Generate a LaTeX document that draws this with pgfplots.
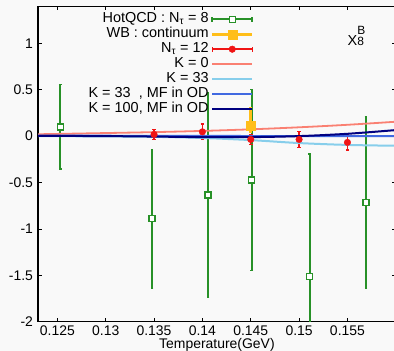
\documentclass[border=0pt]{standalone}
\usepackage{fontspec}
\setmainfont{Liberation Sans}
\usepackage{pgfplots}
\pgfplotsset{compat=1.18}

\definecolor{bg}{RGB}{249,249,249}
\definecolor{qgreen}{RGB}{40,145,40}
\definecolor{wborange}{RGB}{255,190,25}
\definecolor{ntred}{RGB}{240,20,20}
\definecolor{kzero}{RGB}{250,128,114}
\definecolor{kthree}{RGB}{135,206,235}
\definecolor{kmf}{RGB}{65,105,225}
\definecolor{khund}{RGB}{0,0,128}

\begin{document}
\fontsize{14.5}{16}\selectfont
\begin{tikzpicture}
\fill[bg] (-38bp,-29.3bp) rectangle (356bp,321.7bp);
\useasboundingbox (-38bp,-29.3bp) rectangle (356bp,321.7bp);
\begin{axis}[
  scale only axis,
  width=357.8bp, height=315.5bp,
  xmin=0.123, xmax=0.16,
  ymin=-2, ymax=1.4,
  xtick={0.125,0.13,0.135,0.14,0.145,0.15,0.155},
  ytick={-2,-1.5,-1,-0.5,0,0.5,1},
  scaled x ticks=false,
  scaled y ticks=false,
  /pgf/number format/assume math mode=true,
  xticklabel style={/pgf/number format/fixed, /pgf/number format/precision=3,
    yshift=1bp},
  tick label style={font=\fontsize{14}{14}\selectfont},
  tick align=inside,
  major tick length=4bp,
  tick style={black, line width=0.8bp},
  axis line style={black, line width=1.2bp},
  xlabel={Temperature(GeV)},
  xlabel style={at={(axis description cs:0.5,0)}, anchor=base, yshift=-26.5bp,
    font=\fontsize{14}{14}\selectfont},
  legend plot pos=right,
  legend cell align=right,
  legend style={draw=none, fill=none, inner sep=0pt,
    at={(rel axis cs:0.604,0.98)}, anchor=north east,
    font=\fontsize{14.5}{15}\selectfont, row sep=2bp,
    nodes={inner ysep=0pt, text height=10bp, text depth=3bp}},
]

% HotQCD, N_tau = 8
\addplot[qgreen, line width=1.6bp, only marks, mark=square*, forget plot,
  mark size=3bp, mark options={fill=white, line width=1.4bp},
  error bars/.cd, y dir=both, y explicit,
  error bar style={qgreen, line width=1.8bp},
  error mark options={qgreen, line width=1.4bp, mark size=1.3bp, rotate=90},
  ] coordinates {
  (0.1253, 0.100)  +- (0, 0.455)
  (0.1348, -0.890) +- (0, 0.745)
  (0.1406, -0.636) +- (0, 1.100)
  (0.1451, -0.474) +- (0, 0.975)
  (0.1511, -1.516) +- (0, 1.322)
  (0.1569, -0.714) +- (0, 0.925)
};

% WB continuum
\addplot[wborange, only marks, mark=square*, mark size=4.3bp, forget plot,
  mark options={fill=wborange, draw=wborange},
  error bars/.cd, y dir=both, y explicit,
  error bar style={wborange, line width=3.3bp},
  error mark=none,
  ] coordinates {
  (0.145, 0.111) += (0, 0.205) -= (0, 0.075)
};

% N_tau = 12
\addplot[ntred, only marks, mark=*, mark size=3.3bp, forget plot,
  mark options={fill=ntred, draw=ntred},
  error bars/.cd, y dir=both, y explicit,
  error bar style={ntred, line width=1.5bp},
  error mark options={ntred, line width=1.4bp, mark size=1.8bp, rotate=90},
  ] coordinates {
  (0.135, 0.018)  +- (0, 0.054)
  (0.140, 0.046)  +- (0, 0.085)
  (0.145, -0.036) +- (0, 0.053)
  (0.150, -0.036) +- (0, 0.085)
  (0.155, -0.068) +- (0, 0.080)
};

% model curves
\addplot[kzero, line width=1.8bp, smooth, forget plot] coordinates {
  (0.123, 0.020) (0.130, 0.033) (0.135, 0.043) (0.140, 0.056)
  (0.145, 0.073) (0.150, 0.095) (0.155, 0.122) (0.160, 0.155)
};
\addplot[kthree, line width=2bp, smooth, forget plot] coordinates {
  (0.123, 0.000) (0.130, -0.003) (0.135, -0.008) (0.140, -0.020)
  (0.145, -0.043) (0.150, -0.075) (0.155, -0.095) (0.160, -0.104)
};
\addplot[kmf, line width=2bp, smooth, forget plot] coordinates {
  (0.123, 0.005) (0.130, 0.004) (0.135, 0.003) (0.140, 0.002)
  (0.145, 0.001) (0.150, 0.000) (0.155, 0.000) (0.160, 0.000)
};
\addplot[khund, line width=2bp, smooth, forget plot] coordinates {
  (0.123, 0.003) (0.130, 0.000) (0.135, -0.005) (0.140, -0.011)
  (0.145, -0.011) (0.150, 0.000) (0.155, 0.025) (0.160, 0.065)
};

% legend: text on the left, sample on the right
\addlegendimage{legend image code/.code={
  \draw[qgreen, line width=1.6bp] (0bp,0bp) -- (40bp,0bp)
    (0bp,-2.5bp) -- (0bp,2.5bp) (40bp,-2.5bp) -- (40bp,2.5bp);
  \draw[qgreen, line width=1.4bp, fill=white] (17bp,-3bp) rectangle (23bp,3bp);}}
\addlegendentry{HotQCD : N\textsubscript{τ} = 8}
\addlegendimage{legend image code/.code={
  \draw[wborange, line width=3.3bp] (0bp,0bp) -- (40bp,0bp);
  \fill[wborange] (15.5bp,-4.5bp) rectangle (24.5bp,4.5bp);}}
\addlegendentry{WB : continuum}
\addlegendimage{legend image code/.code={
  \draw[ntred, line width=1.5bp] (0bp,0bp) -- (40bp,0bp)
    (0bp,-2.5bp) -- (0bp,2.5bp) (40bp,-2.5bp) -- (40bp,2.5bp);
  \fill[ntred] (20bp,0bp) circle (3.3bp);}}
\addlegendentry{N\textsubscript{τ} = 12}
\addlegendimage{legend image code/.code={
  \draw[kzero, line width=1.8bp] (0bp,0bp) -- (40bp,0bp);}}
\addlegendentry{K = 0}
\addlegendimage{legend image code/.code={
  \draw[kthree, line width=2bp] (0bp,0bp) -- (40bp,0bp);}}
\addlegendentry{K = 33}
\addlegendimage{legend image code/.code={
  \draw[kmf, line width=2bp] (0bp,0bp) -- (40bp,0bp);}}
\addlegendentry{{K = 33\ \ , MF in OD}}
\addlegendimage{legend image code/.code={
  \draw[khund, line width=2bp] (0bp,0bp) -- (40bp,0bp);}}
\addlegendentry{{K = 100, MF in OD}}

\node[anchor=base west, inner sep=0pt] at (rel axis cs:0.865,0.876)
  {X\hspace{0.01em}{\fontsize{12}{12}\selectfont\begin{tabular}[b]{@{}l@{}}B\\[-1bp]8\end{tabular}}};
\end{axis}
\end{tikzpicture}
\end{document}
